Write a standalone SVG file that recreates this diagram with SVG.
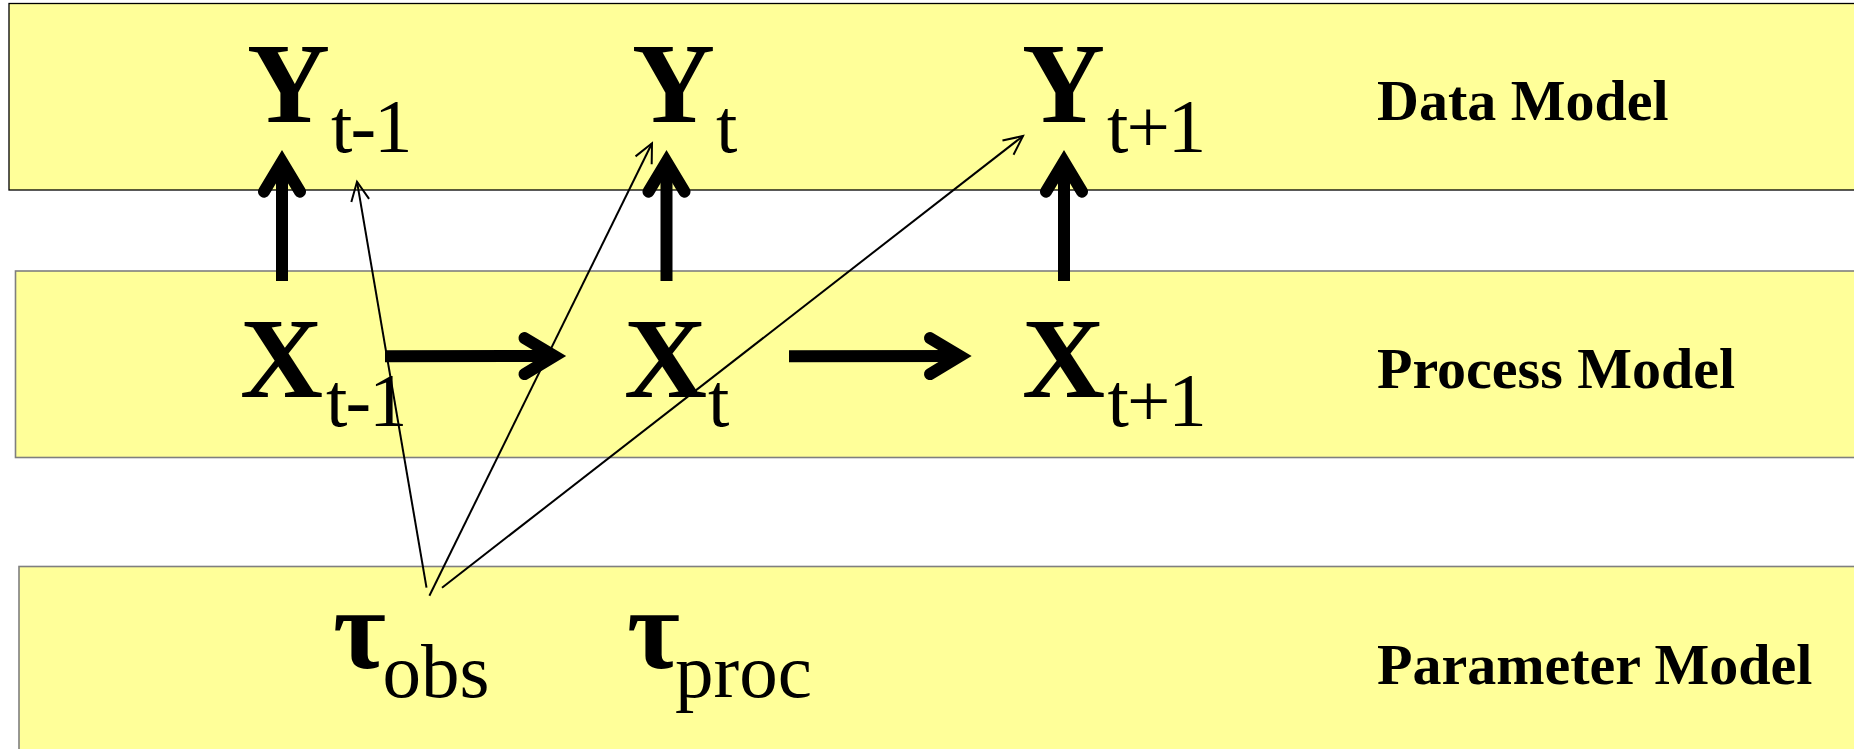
<svg xmlns="http://www.w3.org/2000/svg" width="1854" height="749" viewBox="0 0 1854 749">
<style>
.band{fill:#FFFF99}
.b1{stroke:#000;stroke-width:1.3}
.b2{stroke:#7f7f7f;stroke-width:1.6}
.var{font-family:"Liberation Serif","Times New Roman",serif;fill:#000}
.big{font-size:115px;font-weight:bold}
.sub{font-size:77px}
.tight{letter-spacing:-2px}
.lbl{font-family:"Liberation Serif","Times New Roman",serif;font-weight:bold;font-size:58px;fill:#000}
.thick{stroke:#000;stroke-width:12;fill:none;stroke-linecap:butt}
.thin{stroke:#000;stroke-width:2;fill:none}
</style>
<defs>
<marker id="headThick" markerUnits="userSpaceOnUse" viewBox="-40 -30 50 60" markerWidth="50" markerHeight="60" refX="0" refY="0" orient="auto" overflow="visible">
<path d="M-30,-18 L0,0 L-30,18" fill="none" stroke="#000" stroke-width="12" stroke-linecap="round" stroke-linejoin="miter" stroke-miterlimit="6"/>
</marker>
<marker id="headThin" markerUnits="userSpaceOnUse" viewBox="-25 -15 30 30" markerWidth="30" markerHeight="30" refX="0" refY="0" orient="auto" overflow="visible">
<path d="M-19,-9 L0,0 L-19,9" fill="none" stroke="#000" stroke-width="2" stroke-linejoin="miter"/>
</marker>
</defs>
<rect width="1854" height="749" fill="#fff"/>
<g id="band-data"><rect class="band b1" x="9" y="3.5" width="1860" height="186.5"/><text class="lbl" x="1377" y="119.6">Data Model</text></g>
<g id="band-process"><rect class="band b2" x="15.5" y="271" width="1860" height="186.5"/><text class="lbl" x="1377" y="387.6">Process Model</text></g>
<g id="band-parameter"><rect class="band b2" x="19" y="566.5" width="1860" height="200"/><text class="lbl" x="1377" y="684">Parameter Model</text></g>
<g id="node-Y1"><text class="var"><tspan class="big" x="247" y="122">Y</tspan><tspan class="sub tight" x="331" y="151.7">t-1</tspan></text></g>
<g id="node-Y2"><text class="var"><tspan class="big" x="632" y="122">Y</tspan><tspan class="sub" x="716" y="151.7">t</tspan></text></g>
<g id="node-Y3"><text class="var"><tspan class="big" x="1022" y="122">Y</tspan><tspan class="sub tight" x="1107" y="151.7">t+1</tspan></text></g>
<g id="node-X1"><text class="var"><tspan class="big" x="240" y="396.7">X</tspan><tspan class="sub tight" x="326" y="425.7">t-1</tspan></text></g>
<g id="node-X2"><text class="var"><tspan class="big" x="624" y="396.7">X</tspan><tspan class="sub" x="708" y="425.7">t</tspan></text></g>
<g id="node-X3"><text class="var"><tspan class="big" x="1022" y="396.7">X</tspan><tspan class="sub tight" x="1107.5" y="425.7">t+1</tspan></text></g>
<g id="node-tau-obs"><text class="var"><tspan class="big" x="333" y="668">τ</tspan><tspan class="sub" x="382.5" y="696.7">obs</tspan></text></g>
<g id="node-tau-proc"><text class="var"><tspan class="big" x="627" y="668">τ</tspan><tspan class="sub" x="675" y="696.7">proc</tspan></text></g>
<g id="connectors">
<line class="thick" x1="282" y1="281" x2="282" y2="161.7" marker-end="url(#headThick)"/>
<line class="thick" x1="666.5" y1="281" x2="666.5" y2="161.7" marker-end="url(#headThick)"/>
<line class="thick" x1="1064" y1="281" x2="1064" y2="161.7" marker-end="url(#headThick)"/>
<line class="thick" x1="385" y1="356.3" x2="554.5" y2="356" marker-end="url(#headThick)"/>
<line class="thick" x1="789" y1="356.3" x2="960" y2="356" marker-end="url(#headThick)"/>
<line class="thin" x1="426.5" y1="587.7" x2="357" y2="181.7" marker-end="url(#headThin)"/>
<line class="thin" x1="429.4" y1="595.7" x2="652" y2="143.3" marker-end="url(#headThin)"/>
<line class="thin" x1="442" y1="587.7" x2="1023" y2="136" marker-end="url(#headThin)"/>
</g>
</svg>
